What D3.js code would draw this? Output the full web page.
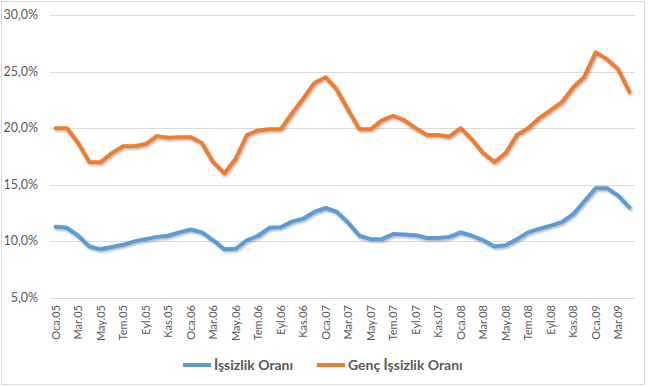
<!DOCTYPE html>
<html>
<head>
<meta charset="utf-8">
<script src="https://cdn.jsdelivr.net/npm/d3@7"></script>
<style>
  body { margin: 0; background: #fff; }
  text { font-family: Lato, "Open Sans", sans-serif; fill: #595959; }
</style>
</head>
<body>
<div id="chart"></div>
<script>
const monthNames = ["Oca", "Şub", "Mar", "Nis", "May", "Haz", "Tem", "Ağu", "Eyl", "Eki", "Kas", "Ara"];
const years = ["05", "06", "07", "08", "09"];
// Oca.05 .. Nis.09
const categories = [];
years.forEach(y => monthNames.forEach(m => categories.push(m + "." + y)));
categories.length = 52;

const issizlik = [
  11.3, 11.2, 10.5, 9.55, 9.3, 9.5, 9.7, 10.0, 10.2, 10.4, 10.5, 10.8,
  11.05, 10.8, 10.1, 9.3, 9.35, 10.1, 10.5, 11.2, 11.25, 11.75, 12.0, 12.6,
  12.95, 12.6, 11.65, 10.5, 10.2, 10.2, 10.65, 10.6, 10.55, 10.3, 10.3, 10.4,
  10.8, 10.5, 10.1, 9.55, 9.65, 10.2, 10.8, 11.1, 11.4, 11.7, 12.4, 13.55,
  14.7, 14.7, 14.05, 13.0
];
const gencIssizlik = [
  20.0, 20.0, 18.7, 17.0, 17.0, 17.8, 18.4, 18.4, 18.6, 19.3, 19.15, 19.2,
  19.2, 18.7, 17.0, 16.0, 17.3, 19.4, 19.8, 19.9, 19.9, 21.3, 22.6, 24.0,
  24.5, 23.4, 21.6, 19.9, 19.9, 20.7, 21.1, 20.7, 20.0, 19.4, 19.4, 19.25,
  20.0, 19.0, 17.8, 17.0, 17.8, 19.4, 20.0, 20.9, 21.6, 22.3, 23.6, 24.55,
  26.7, 26.1, 25.2, 23.2
];
const yTicks = [5, 10, 15, 20, 25, 30];

const series = [
  { name: "İşsizlik Oranı", values: issizlik, color: "#5B9BD5" },
  { name: "Genç İşsizlik Oranı", values: gencIssizlik, color: "#ED7D31" }
];

const width = 649, height = 387;
const svg = d3.select("#chart").append("svg")
  .attr("width", width).attr("height", height);

const defs = svg.append("defs");
const f = defs.append("filter").attr("id", "shadow")
  .attr("x", "-5%").attr("y", "-20%").attr("width", "110%").attr("height", "140%");
f.append("feDropShadow").attr("dx", 1.2).attr("dy", 1.5)
  .attr("stdDeviation", 1.2).attr("flood-color", "#000").attr("flood-opacity", 0.3);

// outer border
svg.append("rect").attr("x", 1.5).attr("y", 1.5)
  .attr("width", 643).attr("height", 383)
  .attr("fill", "#fff").attr("stroke", "#d9d9d9");

const x = d3.scalePoint().domain(categories).range([50, 635]).padding(0.5);
const y = d3.scaleLinear().domain([5, 30]).range([298, 15]);

// grid
svg.append("g").selectAll("line").data(yTicks).enter().append("line")
  .attr("x1", 50).attr("x2", 635)
  .attr("y1", d => Math.round(y(d)) + 0.5).attr("y2", d => Math.round(y(d)) + 0.5)
  .attr("stroke", "#d9d9d9").attr("stroke-width", 1);

// y labels
svg.append("g").selectAll("text").data(yTicks).enter().append("text")
  .attr("x", 38).attr("y", d => y(d) + 4)
  .attr("text-anchor", "end").attr("font-size", 12.5)
  .text(d => d3.format(".1f")(d).replace(".", ",") + "%");

// x labels
svg.append("g").selectAll("text")
  .data(categories.filter((d, i) => i % 2 === 0)).enter().append("text")
  .attr("transform", d => `translate(${x(d) + 4},${305}) rotate(-90)`)
  .attr("text-anchor", "end").attr("font-size", 11)
  .text(d => d);

const line = d3.line()
  .x((d, i) => x(categories[i]))
  .y(d => y(d));

svg.append("g").selectAll("path").data(series).enter().append("path")
  .attr("d", d => line(d.values))
  .attr("fill", "none")
  .attr("stroke", d => d.color)
  .attr("stroke-width", 4)
  .attr("stroke-linejoin", "round")
  .attr("stroke-linecap", "round")
  .attr("filter", "url(#shadow)");

// legend
const legendPos = [183, 317];
const lg = svg.append("g").selectAll("g").data(series).enter().append("g")
  .attr("transform", (d, i) => `translate(${legendPos[i]},365)`);
lg.append("line").attr("x1", 0).attr("x2", 28).attr("y1", 0).attr("y2", 0)
  .attr("stroke", d => d.color).attr("stroke-width", 4);
lg.append("text").attr("x", 31).attr("y", 5)
  .attr("font-size", 14).attr("font-weight", "bold")
  .text(d => d.name);
</script>
</body>
</html>
